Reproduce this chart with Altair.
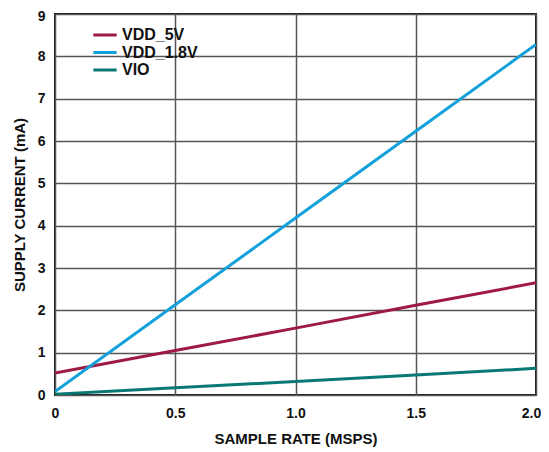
import altair as alt
import pandas as pd

sample_rate = [0.0, 0.5, 1.0, 1.5, 2.0]
vdd_5v = [0.52, 1.05, 1.58, 2.12, 2.65]
vdd_18v = [0.08, 2.13, 4.18, 6.23, 8.28]
vio = [0.02, 0.17, 0.32, 0.47, 0.63]
series = ["VDD_5V", "VDD_1.8V", "VIO"]
colors = ["#9E1A44", "#12A1DA", "#077873"]
x_ticks = [0, 0.5, 1.0, 1.5, 2.0]
y_ticks = list(range(0, 10))

rows = []
for name, vals in zip(series, [vdd_5v, vdd_18v, vio]):
    for x, y in zip(sample_rate, vals):
        rows.append({"rate": x, "current": y, "series": name})
df = pd.DataFrame(rows)

FONT = "Liberation Sans"

chart = alt.Chart(df).mark_line(strokeWidth=3, clip=True).encode(
    x=alt.X("rate:Q",
            scale=alt.Scale(domain=[0, 2.0], nice=False, zero=False),
            axis=alt.Axis(values=x_ticks, title="SAMPLE RATE (MSPS)",
                          labelExpr="datum.value == 0 ? '0' : format(datum.value, '.1f')",
                          labelOffset={"condition": {"test": "datum.value == 2", "value": -5}, "value": 0},
                          tickSize=0, labelPadding=11, titlePadding=11,
                          labelFlush=False)),
    y=alt.Y("current:Q",
            scale=alt.Scale(domain=[0, 9], nice=False),
            axis=alt.Axis(values=y_ticks, title="SUPPLY CURRENT (mA)",
                          labelOffset={"condition": {"test": "datum.value == 9", "value": 2}, "value": 0},
                          tickSize=0, labelPadding=10, titlePadding=10)),
    color=alt.Color("series:N",
                    scale=alt.Scale(domain=series, range=colors),
                    legend=alt.Legend(title=None, orient="none",
                                      legendX=42, legendY=13,
                                      symbolType="M-2,0L2,0",
                                      symbolSize=136,
                                      symbolStrokeWidth=3,
                                      labelFont=FONT, labelFontSize=16,
                                      labelFontWeight="bold", labelColor="#111",
                                      labelOffset=9, rowPadding=1.5, padding=0)),
).properties(
    width=481, height=381,
    padding={"left": 47, "top": 6, "right": 5, "bottom": 52},
    autosize=alt.AutoSizeParams(type="none"),
).configure_view(
    stroke="#1a1a1a", strokeWidth=2
).configure_axis(
    grid=True, gridColor="#555555", gridWidth=1.5, gridOpacity=1,
    domain=False,
    labelFont=FONT, labelFontSize=14, labelFontWeight="bold", labelColor="#111",
    titleFont=FONT, titleFontSize=15, titleFontWeight="bold", titleColor="#111",
)

chart.save("out.html", embed_options={"renderer": "svg", "actions": False})
